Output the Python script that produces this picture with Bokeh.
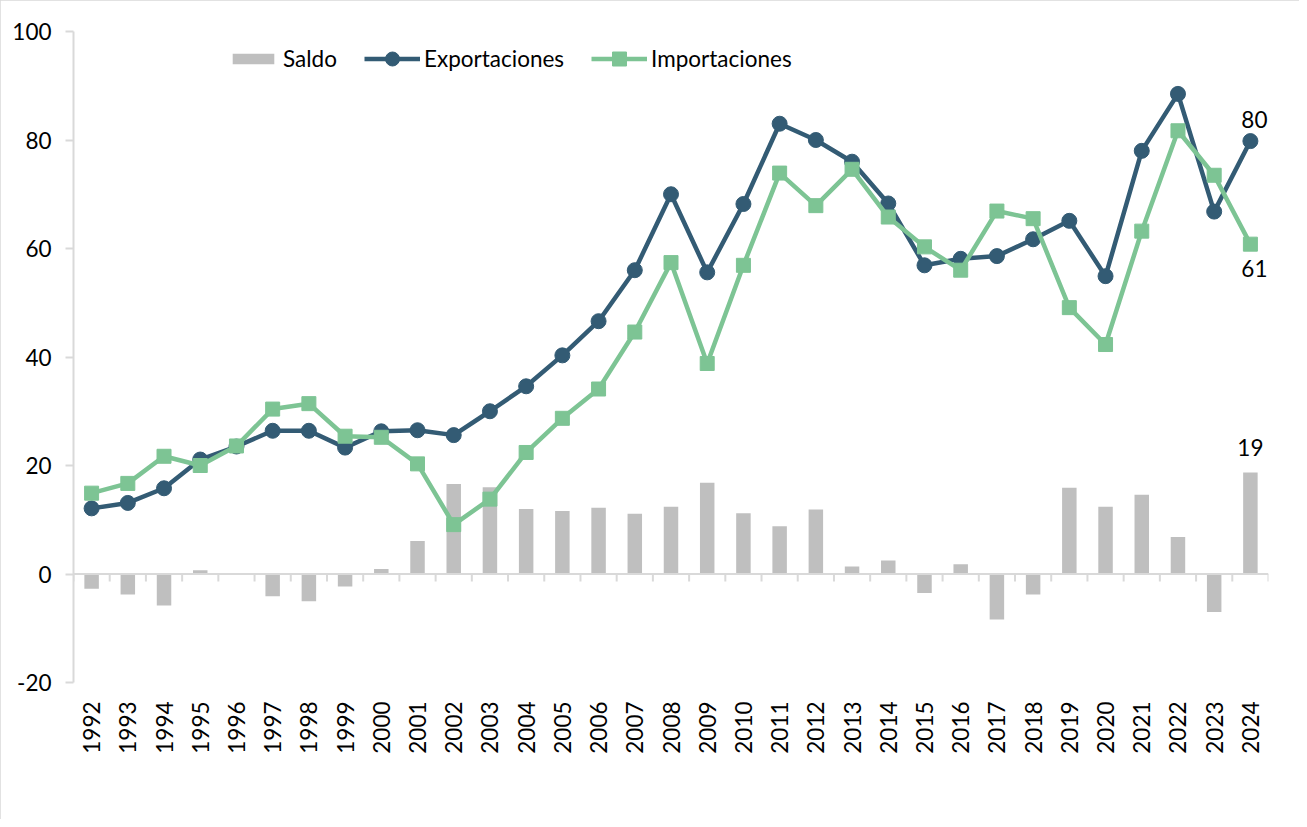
import math
from bokeh.plotting import figure
from bokeh.models import (ColumnDataSource, FactorRange, Range1d, FixedTicker,
                          Span, Legend, LegendItem, LabelSet)
from bokeh.transform import dodge
from bokeh.core.properties import value
from bokeh.embed import file_html
from bokeh.resources import INLINE

years = ["1992", "1993", "1994", "1995", "1996", "1997", "1998", "1999", "2000",
         "2001", "2002", "2003", "2004", "2005", "2006", "2007", "2008", "2009",
         "2010", "2011", "2012", "2013", "2014", "2015", "2016", "2017", "2018",
         "2019", "2020", "2021", "2022", "2023", "2024"]

exportaciones = [12.1, 13.1, 15.8, 21.1, 23.5, 26.4, 26.4, 23.3, 26.3,
                 26.5, 25.6, 30.0, 34.6, 40.3, 46.6, 56.0, 70.0, 55.6,
                 68.2, 83.0, 80.0, 76.0, 68.3, 56.9, 58.1, 58.6, 61.7,
                 65.1, 54.9, 78.0, 88.5, 66.8, 79.8]

importaciones = [14.9, 16.7, 21.7, 20.0, 23.6, 30.4, 31.4, 25.4, 25.2,
                 20.3, 9.1, 13.8, 22.4, 28.7, 34.1, 44.6, 57.4, 38.8,
                 56.9, 73.9, 67.9, 74.6, 65.8, 60.3, 56.0, 66.9, 65.5,
                 49.1, 42.3, 63.2, 81.7, 73.5, 60.8]

saldo = [-2.7, -3.8, -5.8, 0.7, 0.0, -4.1, -5.0, -2.3, 0.9,
         6.1, 16.6, 16.0, 12.0, 11.6, 12.2, 11.1, 12.4, 16.8,
         11.2, 8.8, 11.9, 1.4, 2.5, -3.5, 1.8, -8.4, -3.8,
         15.9, 12.4, 14.6, 6.8, -7.0, 18.7]

y_ticks = [-20, 0, 20, 40, 60, 80, 100]
y_tick_labels = ["-20", "0", "20", "40", "60", "80", "100"]

FONT = "Lato"
FS = "22.5px"
GRAY_AXIS = "#d9d9d9"
C_EXP = "#335b74"
C_IMP = "#7dc494"
C_BAR = "#bfbfbf"

src = ColumnDataSource(dict(year=years, exp=exportaciones, imp=importaciones, saldo=saldo))

p = figure(width=1299, height=819, x_range=FactorRange(*years),
           y_range=Range1d(-20, 100), output_backend="svg", toolbar_location=None,
           min_border_left=73, min_border_right=31, min_border_top=31, min_border_bottom=137)
p.styles = {"outline": "2px solid #d9d9d9", "outline-offset": "-2px"}
p.outline_line_color = None
p.xgrid.grid_line_color = None
p.ygrid.grid_line_color = None
p.background_fill_color = "white"
p.border_fill_color = "white"

# y axis
p.yaxis.ticker = FixedTicker(ticks=y_ticks)
p.yaxis.major_label_overrides = {t: s for t, s in zip(y_ticks, y_tick_labels)}
p.yaxis.axis_line_color = GRAY_AXIS
p.yaxis.axis_line_width = 2
p.yaxis.major_tick_line_color = GRAY_AXIS
p.yaxis.major_tick_line_width = 2
p.yaxis.major_tick_out = 8
p.yaxis.major_tick_in = 0
p.yaxis.minor_tick_line_color = None
p.yaxis.major_label_standoff = 14
p.yaxis.major_label_text_font = FONT
p.yaxis.major_label_text_font_size = FS
p.yaxis.major_label_text_color = "black"

# x axis (labels at the bottom)
p.xaxis.axis_line_color = None
p.xaxis.major_tick_line_color = None
p.xaxis.major_label_orientation = math.pi / 2
p.xaxis.major_label_standoff = 13
p.xaxis.major_label_text_font = FONT
p.xaxis.major_label_text_font_size = FS
p.xaxis.major_label_text_color = "black"

# bars
bars = p.vbar(x="year", top="saldo", bottom=0, width=0.4, source=src,
              fill_color=C_BAR, line_color=None)

# horizontal axis line at zero with category-boundary ticks
p.add_layout(Span(location=0, dimension="width", line_color=GRAY_AXIS, line_width=2))
p.segment(x0=dodge("year", -0.5, range=p.x_range), y0=0,
          x1=dodge("year", -0.5, range=p.x_range), y1=-1.4,
          source=src, line_color=GRAY_AXIS, line_width=2)
last = ColumnDataSource(dict(year=years[-1:]))
p.segment(x0=dodge("year", 0.5, range=p.x_range), y0=0,
          x1=dodge("year", 0.5, range=p.x_range), y1=-1.4,
          source=last, line_color=GRAY_AXIS, line_width=2)

# lines
l_exp = p.line(x="year", y="exp", source=src, line_color=C_EXP, line_width=4.5)
m_exp = p.scatter(x="year", y="exp", source=src, marker="circle", size=15,
                  fill_color=C_EXP, line_color=C_EXP)
l_imp = p.line(x="year", y="imp", source=src, line_color=C_IMP, line_width=4.5)
m_imp = p.scatter(x="year", y="imp", source=src, marker="square", size=14,
                  fill_color=C_IMP, line_color=C_IMP)

# data labels for the last year
lab_kw = dict(text_font=value(FONT), text_font_size=value(FS), text_color="black",
              text_align="center", text_baseline="middle")
for val, xo, yo in [(exportaciones[-1], 4, 22), (importaciones[-1], 4, -24), (saldo[-1], 0, 25)]:
    s = ColumnDataSource(dict(year=[years[-1]], v=[val], t=[f"{round(val)}"]))
    p.add_layout(LabelSet(x="year", y="v", text="t", source=s,
                          x_offset=xo, y_offset=yo, **lab_kw))

leg_kw = dict(orientation="horizontal", border_line_color=None, background_fill_alpha=0,
              padding=0, margin=0, label_text_font=FONT, label_text_font_size=FS,
              label_text_color="black", label_standoff=4, spacing=27)
legend1 = Legend(items=[LegendItem(label="Saldo", renderers=[bars])],
                 location=(154, 610), glyph_width=52, glyph_height=13, **leg_kw)
legend2 = Legend(items=[LegendItem(label="Exportaciones", renderers=[l_exp, m_exp]),
                        LegendItem(label="Importaciones", renderers=[l_imp, m_imp])],
                 location=(291, 606), glyph_width=56, glyph_height=35, **leg_kw)
p.add_layout(legend1)
p.add_layout(legend2)

open("out.html", "w").write(file_html(p, INLINE))
